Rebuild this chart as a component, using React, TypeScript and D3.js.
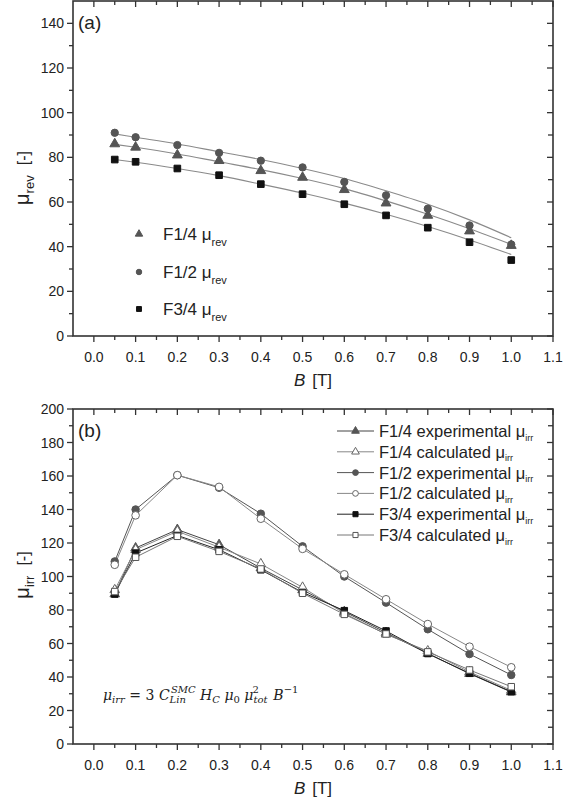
import React from 'react';
import * as d3 from 'd3';

// ---------- data ----------
const Bvals = [0.05, 0.1, 0.2, 0.3, 0.4, 0.5, 0.6, 0.7, 0.8, 0.9, 1.0];

// panel (a): reversible permeability
const revF14 = [86, 84.5, 81, 78.5, 74, 71, 65.5, 59.5, 54, 47, 40.5];
const revF12 = [91, 89, 85.5, 82, 78.5, 75.5, 69, 63, 57, 49.5, 41];
const revF34 = [79, 78, 75, 72, 68, 63.5, 59, 54, 48.5, 42, 34];
// fitted trend lines
const fitF14 = [85.8, 84.5, 81.5, 78, 74.5, 70.5, 66, 60.5, 54.5, 48, 41];
const fitF12 = [90.5, 89, 86, 82.5, 79, 75, 70.5, 65, 59, 52, 44];
const fitF34 = [79, 77.8, 75, 71.8, 68, 64, 59.5, 54.5, 49, 43, 36.5];

// panel (b): irreversible permeability
const irrF14exp = [89.5, 117, 128, 119, 105, 92, 79, 66.5, 54, 42, 31];
const irrF14calc = [92, 116, 127, 117.5, 107.5, 93.5, 78, 65.5, 55.5, 43, 32];
const irrF12exp = [109, 140, 160.5, 153, 137.5, 118, 100, 84.4, 68.5, 53.7, 41.2];
const irrF12calc = [107, 136.5, 160.5, 153.5, 134.5, 116.5, 101.3, 86.4, 71.6, 58.1, 45.8];
const irrF34exp = [89.5, 114, 124.5, 116, 104, 90.5, 79.6, 67.5, 54, 42.2, 31.2];
const irrF34calc = [91, 111.5, 124, 115, 104.5, 90, 77.4, 65.7, 55, 44.2, 34.2];

const xMajor = [0, 0.1, 0.2, 0.3, 0.4, 0.5, 0.6, 0.7, 0.8, 0.9, 1.0, 1.1];
const xMinor = [0.05, 0.15, 0.25, 0.35, 0.45, 0.55, 0.65, 0.75, 0.85, 0.95, 1.05];
const yMajorA = [0, 20, 40, 60, 80, 100, 120, 140];
const yMinorA = [10, 30, 50, 70, 90, 110, 130];
const yMajorB = [0, 20, 40, 60, 80, 100, 120, 140, 160, 180, 200];
const yMinorB = [10, 30, 50, 70, 90, 110, 130, 150, 170, 190];

const FONT = "'Liberation Sans', Arial, sans-serif";
const AXIS = '#333';
const DARK = '#555';
const BLACK = '#111';

type Sym = 'tri' | 'circ' | 'sq';
const symType = (s: Sym) =>
  s === 'tri' ? d3.symbolTriangle : s === 'circ' ? d3.symbolCircle : d3.symbolSquare;

function Marker({ x, y, s, size, fill, stroke }: { x: number; y: number; s: Sym; size: number; fill: string; stroke: string }) {
  const p = d3.symbol().type(symType(s)).size(size)() as string;
  return <path d={p} transform={`translate(${x},${y})`} fill={fill} stroke={stroke} strokeWidth={1} />;
}

const L = 73, R = 553;

function Frame({ y, top, bottom, yMajor, yMinor }: any) {
  const x = d3.scaleLinear().domain([-0.05, 1.1]).range([L, R]);
  return (
    <g fontFamily={FONT} fontSize={14} fill="#222">
      {xMajor.map((v) => (
        <g key={'xb' + v}>
          <line x1={x(v)} x2={x(v)} y1={bottom} y2={bottom + 6} stroke={AXIS} strokeWidth={1.3} />
          <line x1={x(v)} x2={x(v)} y1={top} y2={top + 6} stroke={AXIS} strokeWidth={1.3} />
          <text x={x(v)} y={bottom + 26} textAnchor="middle">{v.toFixed(1)}</text>
        </g>
      ))}
      {xMinor.map((v) => (
        <g key={'xm' + v}>
          <line x1={x(v)} x2={x(v)} y1={bottom} y2={bottom + 4} stroke={AXIS} strokeWidth={1.3} />
          <line x1={x(v)} x2={x(v)} y1={top} y2={top + 4} stroke={AXIS} strokeWidth={1.3} />
        </g>
      ))}
      {yMajor.map((v: number) => (
        <g key={'ym' + v}>
          <line x1={L - 6} x2={L} y1={y(v)} y2={y(v)} stroke={AXIS} strokeWidth={1.3} />
          <line x1={R - 6} x2={R} y1={y(v)} y2={y(v)} stroke={AXIS} strokeWidth={1.3} />
          <text x={L - 9} y={y(v) + 5} textAnchor="end">{v}</text>
        </g>
      ))}
      {yMinor.map((v: number) => (
        <g key={'yn' + v}>
          <line x1={L - 4} x2={L} y1={y(v)} y2={y(v)} stroke={AXIS} strokeWidth={1.3} />
          <line x1={R - 5} x2={R} y1={y(v)} y2={y(v)} stroke={AXIS} strokeWidth={1.3} />
        </g>
      ))}
      <rect x={L} y={top} width={R - L} height={bottom - top} fill="none" stroke={AXIS} strokeWidth={1.6} />
      <text x={313} y={bottom + 50} textAnchor="middle" fontSize={17}>
        <tspan fontStyle="italic">B</tspan>
        <tspan dx={7}>[T]</tspan>
      </text>
    </g>
  );
}

export default function App() {
  const x = d3.scaleLinear().domain([-0.05, 1.1]).range([L, R]);
  const yA = d3.scaleLinear().domain([0, 150]).range([336, 1]);
  const yB = d3.scaleLinear().domain([0, 200]).range([744, 409]);

  const lineA = (vals: number[]) =>
    d3.line<number>().x((_, i) => x(Bvals[i])).y((v) => yA(v)).curve(d3.curveMonotoneX)(vals) as string;
  const lineB = (vals: number[]) =>
    d3.line<number>().x((_, i) => x(Bvals[i])).y((v) => yB(v))(vals) as string;

  const seriesA = [
    { vals: revF14, fit: fitF14, s: 'tri' as Sym, color: DARK, size: 42, label: 'F1/4' },
    { vals: revF12, fit: fitF12, s: 'circ' as Sym, color: DARK, size: 42, label: 'F1/2' },
    { vals: revF34, fit: fitF34, s: 'sq' as Sym, color: BLACK, size: 44, label: 'F3/4' },
  ];

  const seriesB = [
    { vals: irrF14exp, s: 'tri' as Sym, fill: DARK, stroke: DARK, line: '#444', size: 40, label: 'F1/4 experimental' },
    { vals: irrF14calc, s: 'tri' as Sym, fill: '#fff', stroke: '#666', line: '#888', size: 40, label: 'F1/4 calculated' },
    { vals: irrF12exp, s: 'circ' as Sym, fill: DARK, stroke: DARK, line: '#555', size: 44, label: 'F1/2 experimental' },
    { vals: irrF12calc, s: 'circ' as Sym, fill: '#fff', stroke: '#666', line: '#888', size: 46, label: 'F1/2 calculated' },
    { vals: irrF34exp, s: 'sq' as Sym, fill: BLACK, stroke: BLACK, line: '#222', size: 42, label: 'F3/4 experimental' },
    { vals: irrF34calc, s: 'sq' as Sym, fill: '#fff', stroke: '#555', line: '#777', size: 42, label: 'F3/4 calculated' },
  ];

  return (
    <svg width={577} height={803} style={{ position: 'absolute', left: 0, top: 0, background: '#fff' }}>
      <rect width={577} height={803} fill="#fff" />
      {/* ---------- Panel (a) ---------- */}
      <Frame y={yA} top={1} bottom={336} yMajor={yMajorA} yMinor={yMinorA} />
      {seriesA.map((s) => (
        <path key={'fa' + s.label} d={lineA(s.fit)} fill="none" stroke="#8a8a8a" strokeWidth={1.1} />
      ))}
      {seriesA.map((s) =>
        s.vals.map((v, i) => (
          <Marker key={s.label + i} x={x(Bvals[i])} y={yA(v)} s={s.s} size={s.size} fill={s.color} stroke={s.color} />
        ))
      )}
      {seriesA.map((s, i) => {
        const ly = [234, 272, 309][i];
        return (
          <g key={'lga' + i}>
            <Marker x={139} y={ly} s={s.s} size={24} fill={s.color} stroke={s.color} />
            <text x={163} y={ly + 6} fontFamily={FONT} fontSize={17} fill="#222">
              {s.label} μ<tspan fontSize={11} dy={6}>rev</tspan>
            </text>
          </g>
        );
      })}
      <text x={78} y={29} fontFamily={FONT} fontSize={19} fill="#222">(a)</text>
      <text transform="translate(29,178) rotate(-90)" textAnchor="middle" fontFamily={FONT} fontSize={20} fill="#222">
        μ<tspan fontSize={13} dy={5}>rev</tspan>
        <tspan fontSize={16} dy={-5} dx={10}>[-]</tspan>
      </text>

      {/* ---------- Panel (b) ---------- */}
      <Frame y={yB} top={409} bottom={744} yMajor={yMajorB} yMinor={yMinorB} />
      {seriesB.map((s) => (
        <path key={'lb' + s.label} d={lineB(s.vals)} fill="none" stroke={s.line} strokeWidth={1} />
      ))}
      {seriesB.map((s) =>
        s.vals.map((v, i) => (
          <Marker key={s.label + i} x={x(Bvals[i])} y={yB(v)} s={s.s} size={s.size} fill={s.fill} stroke={s.stroke} />
        ))
      )}
      {seriesB.map((s, i) => {
        const ly = 431 + i * 20.8;
        return (
          <g key={'lgb' + i}>
            <line x1={337} x2={374} y1={ly} y2={ly} stroke={s.line} strokeWidth={1} />
            <Marker x={355.5} y={ly} s={s.s} size={26} fill={s.fill} stroke={s.stroke} />
            <text x={379} y={ly + 6} fontFamily={FONT} fontSize={16.5} fill="#222">
              {s.label} μ<tspan fontSize={9} dy={3.5}>irr</tspan>
            </text>
          </g>
        );
      })}
      <text x={78} y={437} fontFamily={FONT} fontSize={19} fill="#222">(b)</text>
      <text transform="translate(29,575) rotate(-90)" textAnchor="middle" fontFamily={FONT} fontSize={20} fill="#222">
        μ<tspan fontSize={13} dy={5}>irr</tspan>
        <tspan fontSize={16} dy={-5} dx={10}>[-]</tspan>
      </text>
      <text x={103} y={700} fontFamily="'DejaVu Serif', 'Liberation Serif', serif" fontSize={14} fill="#222" fontStyle="italic">
        μ<tspan fontSize={10} dy={3}>irr</tspan>
        <tspan dy={-3} fontStyle="normal"> = 3 </tspan>
        C<tspan fontSize={10} dy={3}>Lin</tspan>
        <tspan fontSize={10} dy={-10} dx={-15}>SMC</tspan>
        <tspan dy={7}> H</tspan>
        <tspan fontSize={10} dy={3}>C</tspan>
        <tspan dy={-3}> μ</tspan>
        <tspan fontSize={10} dy={3} fontStyle="normal">0</tspan>
        <tspan dy={-3}> μ</tspan>
        <tspan fontSize={10} dy={3}>tot</tspan>
        <tspan fontSize={10} dy={-10} dx={-15} fontStyle="normal">2</tspan>
        <tspan dy={7} dx={10}> B</tspan>
        <tspan fontSize={10} dy={-7} fontStyle="normal">−1</tspan>
      </text>
    </svg>
  );
}
